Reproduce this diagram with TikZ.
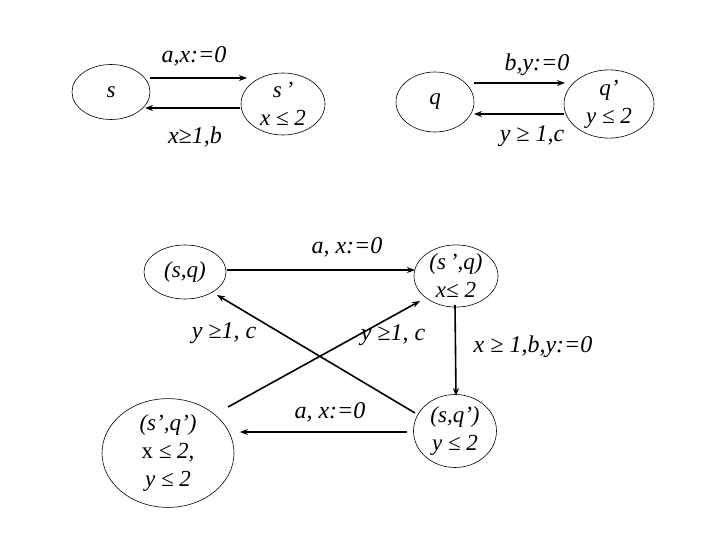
\documentclass[tikz,border=0pt]{standalone}
\usepackage{fontspec}
\setmainfont{Liberation Serif}
\usetikzlibrary{shapes.geometric,arrows.meta,calc}
\begin{document}
\begin{tikzpicture}[x=1pt,y=-1pt,
  state/.style={draw,ellipse,line width=0.6pt,inner sep=0pt,align=center,
    font=\fontsize{23}{28}\selectfont\itshape},
  lbl/.style={font=\fontsize{24}{28}\selectfont\itshape,inner sep=0pt},
  edge/.style={line width=1.6pt,-{Stealth[length=8pt,width=6pt]}},
  plain/.style={line width=1.6pt}]
\useasboundingbox (0,0) rectangle (720,540);
% top-left automaton
\node[state,minimum width=78pt,minimum height=55pt] (s) at (111,92) {s};
\node[state,minimum width=84pt,minimum height=62pt] (sp) at (283,104) {s\,’\\x ≤ 2};
\draw[edge] ($(s.center)+(39,-14)$) -- ($(sp.center)+(-36,-26)$);
\draw[edge] ($(sp.center)+(-43,4)$) -- ($(s.center)+(34,16)$);
\node[lbl] (l1) at (194,56) {a,x:=0};
\node[lbl] (l2) at (195,137) {x≥1,b};
% top-right automaton
\node[state,minimum width=78pt,minimum height=60pt] (q) at (435,102) {q};
\node[state,minimum width=90pt,minimum height=64pt] (qp) at (609,104) {q’\\y ≤ 2};
\draw[edge] ($(q.center)+(39,-19)$) -- ($(qp.center)+(-44,-21)$);
\draw[edge] ($(qp.center)+(-45,10)$) -- ($(q.center)+(39,12)$);
\node[lbl] (l3) at (537,65) {b,y:=0};
\node[lbl] (l4) at (532,136) {y ≥ 1,c};
% product
\node[state,minimum width=82pt,minimum height=54pt] (sq) at (185,272) {(s,q)};
\node[state,minimum width=84pt,minimum height=58pt] (spq) at (456,276) {(s\,’,q)\\x≤ 2};
\node[state,minimum width=83pt,minimum height=73pt] (sqp) at (455,431) {(s,q’)\\y ≤ 2};
\node[state,minimum width=132pt,minimum height=100pt] (spqp) at (168,453) {(s’,q’)\\{\upshape x} ≤ 2,\\y ≤ 2};
\draw[edge] ($(sq.center)+(42,-2)$) -- ($(spq.center)+(-41,-6)$);
\draw[edge] ($(spq.center)+(-1,29)$) -- ($(sqp.center)+(1,-35)$);
\draw[edge] ($(sqp.center)+(-48,1)$) -- ($(spqp.center)+(72,-21)$);
\draw[edge] ($(spqp.center)+(60,-46)$) -- ($(spq.center)+(-36,25)$);
\draw[edge] ($(sqp.center)+(-40,-18)$) -- ($(sq.center)+(32,23)$);
\node[lbl] (l5) at (347,247) {a, x:=0};
\node[lbl] (l6) at (224,333) {y ≥1, c};
\node[lbl] (l7) at (393,335) {y ≥1, c};
\node[lbl] (l8) at (533,347) {x ≥ 1,b,y:=0};
\node[lbl] (l9) at (330,412) {a, x:=0};
\end{tikzpicture}
\end{document}
